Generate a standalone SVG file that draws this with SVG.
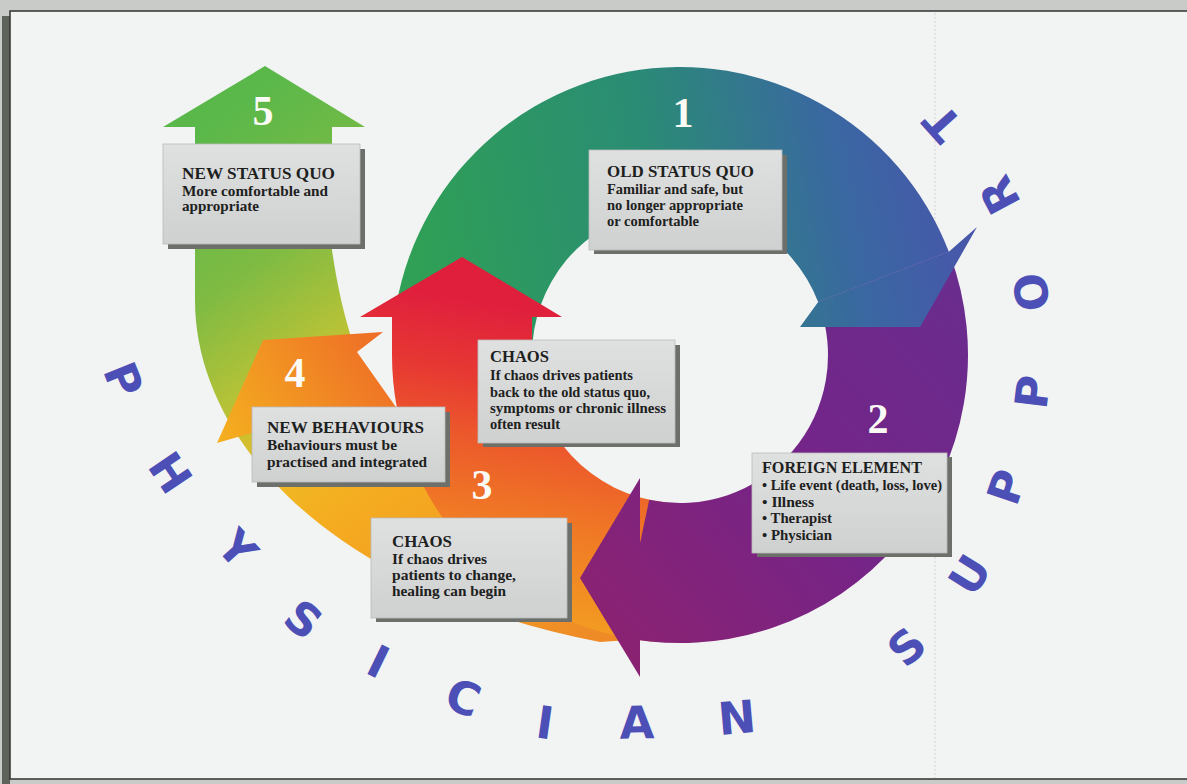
<svg xmlns="http://www.w3.org/2000/svg" width="1187" height="784" viewBox="0 0 1187 784">
  <defs>
    <linearGradient id="gRing1" gradientUnits="userSpaceOnUse" x1="420" y1="300" x2="960" y2="200">
      <stop offset="0" stop-color="#2fa055"/>
      <stop offset="0.45" stop-color="#2a8c74"/>
      <stop offset="0.8" stop-color="#3a67a2"/>
      <stop offset="1" stop-color="#4757aa"/>
    </linearGradient>
    <linearGradient id="gPurple" gradientUnits="userSpaceOnUse" x1="960" y1="300" x2="600" y2="620">
      <stop offset="0" stop-color="#6a2c8d"/>
      <stop offset="0.5" stop-color="#752488"/>
      <stop offset="1" stop-color="#8a2272"/>
    </linearGradient>
    <linearGradient id="gArc5" gradientUnits="userSpaceOnUse" x1="600" y1="640" x2="230" y2="110">
      <stop offset="0" stop-color="#ef8a26"/>
      <stop offset="0.39" stop-color="#f5ac20"/>
      <stop offset="0.5" stop-color="#eeba24"/>
      <stop offset="0.63" stop-color="#b5c237"/>
      <stop offset="0.78" stop-color="#7fbb43"/>
      <stop offset="1" stop-color="#5ab84a"/>
    </linearGradient>
    <linearGradient id="gArrow4" gradientUnits="userSpaceOnUse" x1="390" y1="335" x2="217" y2="443">
      <stop offset="0" stop-color="#ee6a27"/>
      <stop offset="1" stop-color="#f4b11f"/>
    </linearGradient>
    <linearGradient id="gRed" gradientUnits="userSpaceOnUse" x1="420" y1="600" x2="470" y2="300">
      <stop offset="0" stop-color="#f39a22"/>
      <stop offset="0.3" stop-color="#f07a25"/>
      <stop offset="0.55" stop-color="#ec5a2b"/>
      <stop offset="0.75" stop-color="#e73a32"/>
      <stop offset="1" stop-color="#e01f3d"/>
    </linearGradient>
    <linearGradient id="gBox" x1="0" y1="0" x2="0" y2="1">
      <stop offset="0" stop-color="#dfe0e0"/>
      <stop offset="1" stop-color="#cfd0d0"/>
    </linearGradient>
  </defs>
  <style>
    .shadow { fill: #6d6f6b; }
    .face { fill: url(#gBox); stroke: #b9bbba; stroke-width: 0.8; }
    .title { font-family: "Liberation Serif", "Times New Roman", serif; font-weight: bold; font-size: 16.5px; fill: #1d211d; }
    .body { font-family: "Liberation Serif", "Times New Roman", serif; font-weight: bold; font-size: 14px; fill: #1d211d; }
    .num { font-family: "Liberation Serif", "Times New Roman", serif; font-weight: bold; font-size: 42px; fill: #fbfbf6; text-anchor: middle; }
    .ltr { font-family: "DejaVu Sans", sans-serif; font-weight: bold; font-size: 45px; fill: #4b4fb6; text-anchor: middle; dominant-baseline: central; }
  </style>

  <!-- page and frame -->
  <rect x="0" y="0" width="1187" height="784" fill="#c9cbc9"/>
  <rect x="2" y="16" width="8" height="768" fill="#5d625b"/>
  <rect x="10" y="11" width="1180" height="768" fill="#f2f3f3" stroke="#30332f" stroke-width="1.5"/>
  <line x1="935" y1="13" x2="935" y2="778" stroke="#cdd0d1" stroke-width="1.2" stroke-dasharray="1.5 2.5"/>

  <!-- cycle arrows -->
  <g id="connectors">
    <!-- 5: outer arrow sweeping up the left side -->
    <path id="arrow-5" fill="url(#gArc5)" d="M265,66 L365,127 L332,127 L332,250 C337,285 344,315 352,340 L330,420 L420,430 L440,470 L540,520 L640,600 L630,640 L600,642 C330,590 195,440 195,300 L195,127 L163,127 Z"/>
    <!-- 1: old status quo arc -->
    <path id="arrow-1" fill="url(#gRing1)" d="M392,355 A288,288 0 0 1 948.87,251.79 L818.17,301.96 A148,148 0 0 0 532,355 Z"/>
    <!-- 4: branch toward the new status quo -->
    <path id="arrow-4" fill="url(#gArrow4)" d="M263,340 L383,332 L357,352 L398,410 L330,470 L255,432 L217,443 Z"/>
    <!-- 3: chaos arc with head back up to the old status quo -->
    <path id="arrow-3" fill="url(#gRed)" d="M654.9,641.9 A288,288 0 0 1 392,355 L392,317 L360,317 L462,257 L562,317 L532,317 L532,355 A148,148 0 0 0 667.1,502.4 Z"/>
    <!-- 2: foreign element arc -->
    <path id="arrow-2" fill="url(#gPurple)" d="M948.87,251.79 A288,288 0 0 1 620.12,636.71 L649.23,499.77 A148,148 0 0 0 818.17,301.96 Z"/>
    <path id="arrow-1-head" fill="url(#gRing1)" d="M948.87,251.79 L977,227 L920,327 L800,327 L818.17,301.96 Z"/>
    <path id="arrow-2-head" fill="url(#gPurple)" d="M640,478 L580,578 L640,677 Z"/>
  </g>

  <!-- stage numbers -->
  <g id="numbers">
    <text class="num" x="683" y="127">1</text>
    <text class="num" x="878" y="433">2</text>
    <text class="num" x="482" y="499">3</text>
    <text class="num" x="295" y="387">4</text>
    <text class="num" x="263" y="125">5</text>
  </g>

  <g id="node-new-status-quo">
    <rect class="shadow" x="168" y="149" width="197" height="100"/>
    <rect class="face" x="163" y="144" width="197" height="100"/>
    <text class="title" x="182" y="179" textLength="153" lengthAdjust="spacingAndGlyphs">NEW STATUS QUO</text>
    <text class="body" x="182" y="195.5" textLength="146" lengthAdjust="spacingAndGlyphs">More comfortable and</text>
    <text class="body" x="182" y="211" textLength="77" lengthAdjust="spacingAndGlyphs">appropriate</text>
  </g>

  <g id="node-old-status-quo">
    <rect class="shadow" x="594" y="155" width="193" height="99"/>
    <rect class="face" x="589" y="150" width="193" height="100"/>
    <text class="title" x="607" y="177" textLength="147" lengthAdjust="spacingAndGlyphs">OLD STATUS QUO</text>
    <text class="body" x="607" y="193.5" textLength="136" lengthAdjust="spacingAndGlyphs">Familiar and safe, but</text>
    <text class="body" x="607" y="209.5" textLength="136" lengthAdjust="spacingAndGlyphs">no longer appropriate</text>
    <text class="body" x="607" y="225.5" textLength="92" lengthAdjust="spacingAndGlyphs">or comfortable</text>
  </g>

  <g id="node-chaos-back">
    <rect class="shadow" x="483" y="345" width="197" height="102"/>
    <rect class="face" x="478" y="340" width="197" height="103"/>
    <text class="title" x="490" y="362" textLength="59" lengthAdjust="spacingAndGlyphs">CHAOS</text>
    <text class="body" x="490" y="380" textLength="143" lengthAdjust="spacingAndGlyphs">If chaos drives patients</text>
    <text class="body" x="490" y="396.5" textLength="160" lengthAdjust="spacingAndGlyphs">back to the old status quo,</text>
    <text class="body" x="490" y="412.5" textLength="176" lengthAdjust="spacingAndGlyphs">symptoms or chronic illness</text>
    <text class="body" x="490" y="428.5" textLength="70" lengthAdjust="spacingAndGlyphs">often result</text>
  </g>

  <g id="node-new-behaviours">
    <rect class="shadow" x="257" y="412" width="193" height="75"/>
    <rect class="face" x="252" y="407" width="193" height="75"/>
    <text class="title" x="267" y="433" textLength="157" lengthAdjust="spacingAndGlyphs">NEW BEHAVIOURS</text>
    <text class="body" x="267" y="450" textLength="130" lengthAdjust="spacingAndGlyphs">Behaviours must be</text>
    <text class="body" x="267" y="466.5" textLength="160" lengthAdjust="spacingAndGlyphs">practised and integrated</text>
  </g>

  <g id="node-foreign-element">
    <rect class="shadow" x="757" y="457" width="195" height="100"/>
    <rect class="face" x="752" y="453" width="195" height="100"/>
    <text class="title" x="762" y="473" textLength="160" lengthAdjust="spacingAndGlyphs">FOREIGN ELEMENT</text>
    <text class="body" x="762" y="490" textLength="180" lengthAdjust="spacingAndGlyphs">• Life event (death, loss, love)</text>
    <text class="body" x="762" y="506.5" textLength="52" lengthAdjust="spacingAndGlyphs">• Illness</text>
    <text class="body" x="762" y="523" textLength="70" lengthAdjust="spacingAndGlyphs">• Therapist</text>
    <text class="body" x="762" y="539.5" textLength="70" lengthAdjust="spacingAndGlyphs">• Physician</text>
  </g>

  <g id="node-chaos-change">
    <rect class="shadow" x="376" y="523" width="196" height="99"/>
    <rect class="face" x="371" y="518" width="196" height="100"/>
    <text class="title" x="392" y="547" textLength="60" lengthAdjust="spacingAndGlyphs">CHAOS</text>
    <text class="body" x="392" y="564" textLength="95" lengthAdjust="spacingAndGlyphs">If chaos drives</text>
    <text class="body" x="392" y="580" textLength="124" lengthAdjust="spacingAndGlyphs">patients to change,</text>
    <text class="body" x="392" y="596" textLength="114" lengthAdjust="spacingAndGlyphs">healing can begin</text>
  </g>

  <!-- curved lettering around the cycle -->
  <g id="label-physician">
    <text class="ltr" x="123" y="380" transform="rotate(68 123 380)">P</text>
    <text class="ltr" x="170" y="473" transform="rotate(56 170 473)">H</text>
    <text class="ltr" x="237" y="549" transform="rotate(48 237 549)">Y</text>
    <text class="ltr" x="303" y="620" transform="rotate(39 303 620)">S</text>
    <text class="ltr" x="378" y="662" transform="rotate(26 378 662)">I</text>
    <text class="ltr" x="463" y="698" transform="rotate(20 463 698)">C</text>
    <text class="ltr" x="545" y="723" transform="rotate(8 545 723)">I</text>
    <text class="ltr" x="637" y="723" transform="rotate(-1 637 723)">A</text>
    <text class="ltr" x="737" y="718" transform="rotate(-5 737 718)">N</text>
  </g>
  <g id="label-support">
    <text class="ltr" x="907" y="647" transform="rotate(-43 907 647)">S</text>
    <text class="ltr" x="970" y="575" transform="rotate(-58 970 575)">U</text>
    <text class="ltr" x="1007" y="487" transform="rotate(-71 1007 487)">P</text>
    <text class="ltr" x="1033" y="392" transform="rotate(-83 1033 392)">P</text>
    <text class="ltr" x="1032" y="292" transform="rotate(-99 1032 292)">O</text>
    <text class="ltr" x="1000" y="195" transform="rotate(-118 1000 195)">R</text>
    <text class="ltr" x="943" y="123" transform="rotate(-132 943 123)">T</text>
  </g>
</svg>
